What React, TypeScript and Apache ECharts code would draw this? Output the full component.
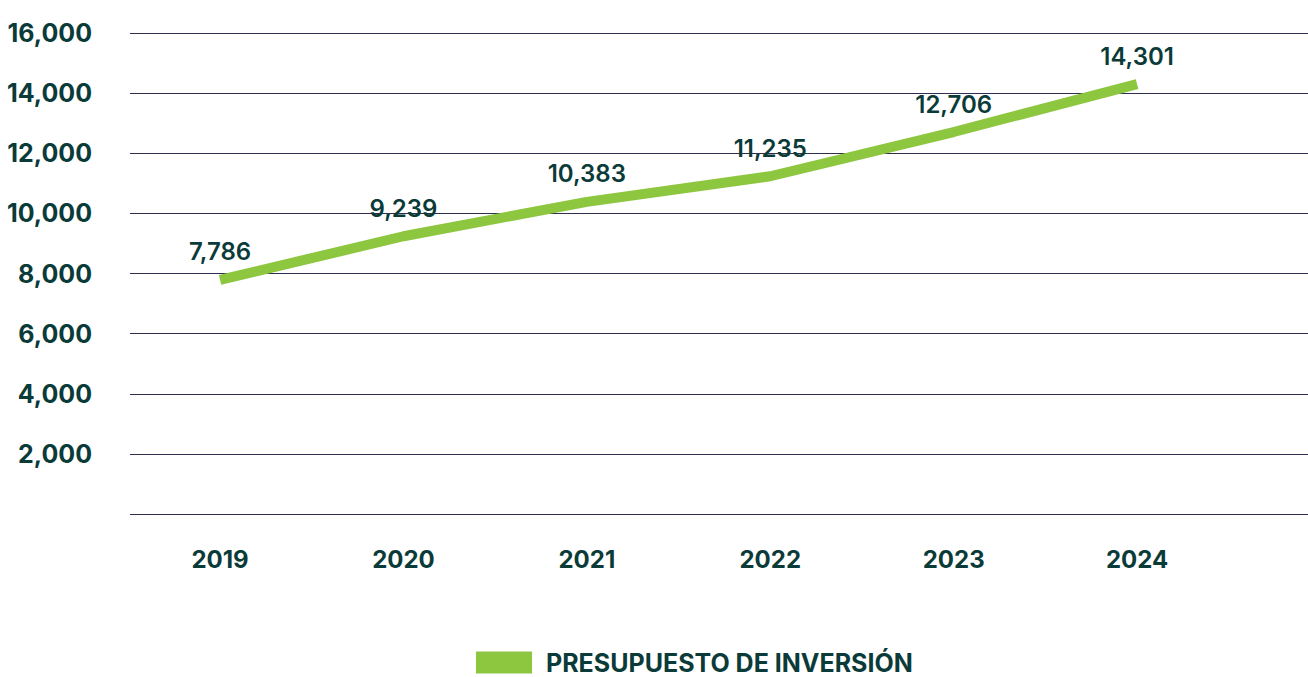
import React, { useEffect, useRef } from "react";
import * as echarts from "echarts";

const years = [2019, 2020, 2021, 2022, 2023, 2024];
const budget = [7786, 9239, 10383, 11235, 12706, 14301];
const yTicks = [0, 2000, 4000, 6000, 8000, 10000, 12000, 14000, 16000];
const seriesName = "PRESUPUESTO DE INVERSIÓN";

const TEXT = "#0b3b39";
const FONT = "Inter, 'Open Sans', sans-serif";
const fmt = (v: number) => v.toLocaleString("en-US");

export default function App() {
  const ref = useRef<HTMLDivElement>(null);
  useEffect(() => {
    document.body.style.margin = "0";
    const chart = echarts.init(ref.current!, undefined, { renderer: "svg" });
    chart.setOption({
      animation: false,
      textStyle: { fontFamily: FONT },
      grid: { left: 130, right: 0, top: 33, bottom: 163, containLabel: false },
      legend: {
        data: [seriesName],
        left: 476,
        top: 650,
        padding: 0,
        itemWidth: 56,
        itemHeight: 22,
        itemGap: 10,
        icon: "rect",
        textStyle: { color: TEXT, fontSize: 25, fontWeight: 700, fontFamily: FONT, padding: [0, 0, 0, 9] },
      },
      xAxis: {
        type: "value",
        min: 2018.509,
        max: 2024.932,
        splitLine: { show: false },
        axisLine: { show: false },
        axisTick: { show: false },
        axisLabel: {
          customValues: years,
          formatter: (v: number) => String(v),
          color: TEXT,
          fontSize: 24,
          fontWeight: 700,
          fontFamily: FONT,
          margin: 33,
        },
      },
      yAxis: {
        type: "value",
        min: yTicks[0],
        max: yTicks[yTicks.length - 1],
        interval: 2000,
        axisLine: { show: false },
        axisTick: { show: false },
        splitLine: { lineStyle: { color: "#2e2e4e", width: 1 } },
        axisLabel: {
          formatter: (v: number) => (v === 0 ? "" : fmt(v)),
          color: TEXT,
          fontSize: 25,
          fontWeight: 700,
          fontFamily: FONT,
          margin: 38,
        },
      },
      series: [
        {
          name: seriesName,
          type: "line",
          data: years.map((y, i) => [y, budget[i]]),
          symbol: "circle",
          symbolSize: 0,
          showSymbol: true,
          lineStyle: { color: "#8dc63f", width: 10, cap: "butt" },
          itemStyle: { color: "#8dc63f" },
          label: {
            show: true,
            position: "top",
            distance: 16,
            formatter: (p: any) => fmt(p.value[1]),
            color: TEXT,
            fontSize: 24,
            fontWeight: 600,
            fontFamily: FONT,
          },
        },
      ],
    });
    return () => chart.dispose();
  }, []);
  return <div ref={ref} style={{ width: 1308, height: 677 }} />;
}
